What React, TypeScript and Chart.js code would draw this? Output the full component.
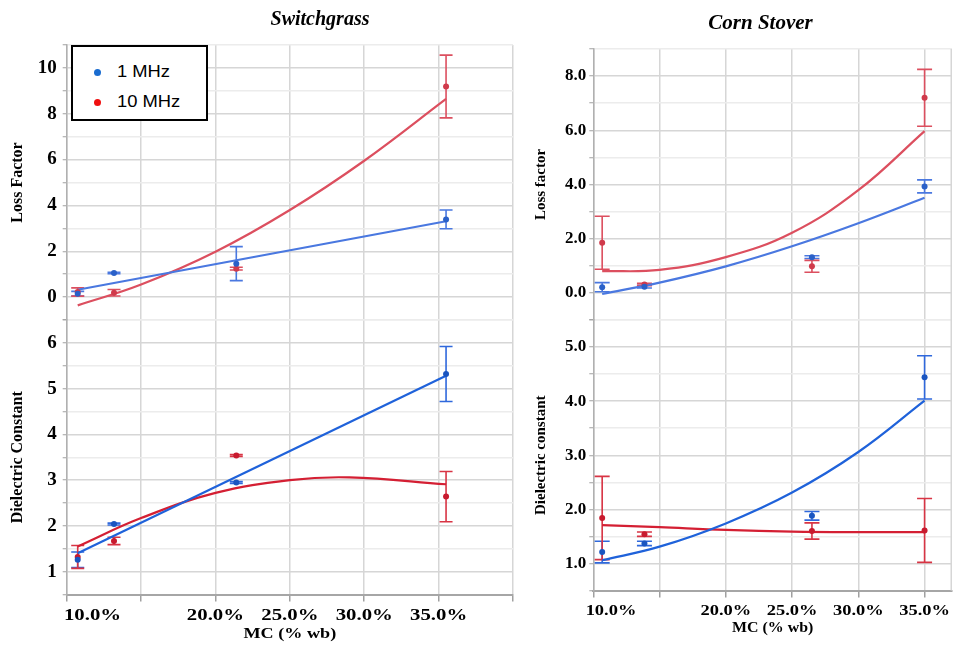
import React, { useEffect, useRef } from 'react';
import { Chart, registerables } from 'chart.js';

Chart.register(...registerables);

const serif = "'Liberation Serif', 'Times New Roman', Times, serif";

const seriesNames = ['1 MHz', '10 MHz'];
const legendColors = ['#1a6cd0', '#f01010'];

// Moisture-content tick labels along the shared x axis
const mcTickValues = [10, 20, 25, 30, 35];
const mcTickLabels = ['10.0%', '20.0%', '25.0%', '30.0%', '35.0%'];
const mcTitle = 'MC (% wb)';

// ---- Switchgrass ----
const sgMC = [10.74, 13.18, 21.4, 35.5];
const sgLoss1 = [0.15, 1.05, 1.46, 3.39];
const sgLoss1Err = [0.1, 0.03, 0.74, 0.41];
const sgLoss10 = [0.22, 0.19, 1.24, 9.19];
const sgLoss10Err = [0.18, 0.14, 0.06, 1.37];
const sgDiel1 = [1.26, 2.04, 2.95, 5.32];
const sgDiel1Err = [0.17, 0.02, 0.02, 0.6];
const sgDiel10 = [1.32, 1.67, 3.54, 2.64];
const sgDiel10Err = [0.25, 0.08, 0.02, 0.55];

// fitted trend lines (Switchgrass)
const sgLoss1FitX = [10.74, 35.5];
const sgLoss1FitY = [0.32, 3.31];
const sgLoss10FitX = [10.74, 15, 20, 25, 30, 35.5];
const sgLoss10FitY = [-0.36, 0.55, 1.98, 3.8, 5.95, 8.65];
const sgDiel1FitX = [10.74, 35.5];
const sgDiel1FitY = [1.4, 5.28];
const sgDiel10FitX = [10.74, 15, 20, 25, 29, 35.5];
const sgDiel10FitY = [1.55, 2.17, 2.72, 3.0, 3.06, 2.91];

// ---- Corn Stover ----
const csMC = [10.67, 13.86, 26.5, 35.0];
const csLoss1 = [0.21, 0.23, 1.32, 3.93];
const csLoss1Err = [0.17, 0.05, 0.05, 0.24];
const csLoss10 = [1.85, 0.31, 0.98, 7.2];
const csLoss10Err = [0.98, 0.04, 0.22, 1.05];
const csDiel1 = [1.21, 1.37, 1.88, 4.44];
const csDiel1Err = [0.2, 0.04, 0.08, 0.4];
const csDiel10 = [1.84, 1.54, 1.6, 1.61];
const csDiel10Err = [0.77, 0.04, 0.15, 0.59];

// fitted trend lines (Corn Stover)
const csLoss1FitX = [10.67, 15, 20, 25, 30, 35];
const csLoss1FitY = [-0.04, 0.38, 0.98, 1.72, 2.57, 3.51];
const csLoss10FitX = [10.67, 15, 20, 25, 30, 35];
const csLoss10FitY = [0.8, 0.85, 1.32, 2.22, 3.79, 5.97];
const csDiel1FitX = [10.67, 15, 20, 25, 30, 35];
const csDiel1FitY = [1.06, 1.31, 1.74, 2.31, 3.06, 4.01];
const csDiel10FitX = [10.67, 15, 20, 25, 30, 35];
const csDiel10FitY = [1.71, 1.67, 1.62, 1.59, 1.58, 1.58];

const pts = (xs: number[], ys: number[]) => xs.map((x, i) => ({ x, y: ys[i] }));

type Colors = { line: string; point: string; err: string };

function seriesDatasets(
  label: string,
  axis: string,
  x: number[],
  y: number[],
  err: number[],
  fitX: number[],
  fitY: number[],
  c: Colors,
  cap: number
) {
  return [
    {
      label: label + ' fit',
      data: pts(fitX, fitY),
      yAxisID: axis,
      showLine: true,
      borderColor: c.line,
      backgroundColor: c.line,
      borderWidth: 2.2,
      pointRadius: 0,
      tension: 0.4,
      fill: false,
      order: 2,
    },
    {
      label,
      data: pts(x, y),
      yAxisID: axis,
      showLine: false,
      pointRadius: 3,
      pointBackgroundColor: c.point,
      pointBorderWidth: 0,
      errors: err,
      errorColor: c.err,
      capHalf: cap,
      order: 1,
    },
  ];
}

// vertical error bars with caps, drawn through the chart's own scales
const errorBarPlugin = {
  id: 'errorBars',
  beforeDatasetsDraw(chart: any) {
    const { ctx } = chart;
    const xs = chart.scales.x;
    chart.data.datasets.forEach((ds: any) => {
      if (!ds.errors) return;
      const ys = chart.scales[ds.yAxisID];
      ctx.save();
      ctx.strokeStyle = ds.errorColor;
      ctx.lineWidth = 1.6;
      ds.data.forEach((p: any, i: number) => {
        const e = ds.errors[i];
        const px = xs.getPixelForValue(p.x);
        const top = ys.getPixelForValue(p.y + e);
        const bot = ys.getPixelForValue(p.y - e);
        const h = ds.capHalf;
        ctx.beginPath();
        ctx.moveTo(px, top);
        ctx.lineTo(px, bot);
        ctx.moveTo(px - h, top);
        ctx.lineTo(px + h, top);
        ctx.moveTo(px - h, bot);
        ctx.lineTo(px + h, bot);
        ctx.stroke();
      });
      ctx.restore();
    });
  },
};

// x tick labels and axis title, set in a slightly widened bold serif
const mcAxisTextPlugin = {
  id: 'mcAxisText',
  afterDraw(chart: any, _args: any, o: any) {
    const { ctx, chartArea } = chart;
    const xs = chart.scales.x;
    ctx.save();
    ctx.fillStyle = '#000';
    ctx.textAlign = 'center';
    ctx.textBaseline = 'alphabetic';
    ctx.font = `bold ${o.tickSize}px ${serif}`;
    mcTickValues.forEach((v, i) => {
      let px = xs.getPixelForValue(v);
      if (v === xs.min) px += o.edgeShift;
      ctx.save();
      ctx.translate(px, chartArea.bottom + o.tickBaseline);
      ctx.scale(o.stretch, 1);
      ctx.fillText(mcTickLabels[i], 0, 0);
      ctx.restore();
    });
    ctx.font = `bold ${o.titleSize}px ${serif}`;
    ctx.save();
    ctx.translate((chartArea.left + chartArea.right) / 2, chartArea.bottom + o.titleBaseline);
    ctx.scale(o.titleStretch, 1);
    ctx.fillText(mcTitle, 0, 0);
    ctx.restore();
    if (o.rightEdge) {
      ctx.strokeStyle = '#d6d6d6';
      ctx.lineWidth = 1.5;
      ctx.beginPath();
      ctx.moveTo(chartArea.right - 0.75, chartArea.top);
      ctx.lineTo(chartArea.right - 0.75, chartArea.bottom);
      ctx.stroke();
    }
    ctx.restore();
  },
};

type AxisOpts = {
  min: number;
  max: number;
  step: number;
  labelEvery: number;
  decimals: number;
  weight: number;
  title: string;
  tickSize: number;
  titleSize: number;
  titlePad: number;
  width: number;
  labelPad: number;
};

function yAxis(o: AxisOpts) {
  const isMajor = (v: number) => Math.abs(v / o.labelEvery - Math.round(v / o.labelEvery)) < 1e-6;
  return {
    type: 'linear',
    position: 'left',
    stack: 'mc',
    stackWeight: o.weight,
    min: o.min,
    max: o.max,
    ticks: {
      stepSize: o.step,
      autoSkip: false,
      includeBounds: false,
      padding: o.labelPad,
      color: '#000',
      font: { family: serif, size: o.tickSize, weight: 'bold' },
      callback: (v: number) => (isMajor(v) ? Number(v).toFixed(o.decimals) : ''),
    },
    grid: {
      color: (c: any) => (isMajor(c.tick.value) ? '#d6d6d6' : '#ececec'),
      lineWidth: 1.5,
      tickLength: 4,
      tickColor: '#a0a0a0',
      tickWidth: 1,
    },
    border: { color: '#b0b0b0', width: 1.5 },
    title: {
      display: true,
      text: o.title,
      color: '#000',
      font: { family: serif, size: o.titleSize, weight: 'bold' },
      padding: { top: o.titlePad, bottom: 0 },
    },
    afterFit: (s: any) => {
      s.width = o.width;
    },
  };
}

const topColors1: Colors = { line: '#4a78e0', point: '#2a60c8', err: '#4a78e0' };
const topColors10: Colors = { line: '#dc4f5f', point: '#d03a4b', err: '#dc4f5f' };
const lowColors1: Colors = { line: '#1f62da', point: '#1a55c0', err: '#2f68dc' };
const lowColors10: Colors = { line: '#d41f33', point: '#c81a2e', err: '#d83444' };

function switchgrassConfig(): any {
  return {
    type: 'scatter',
    data: {
      datasets: [
        ...seriesDatasets(seriesNames[0], 'yLoss', sgMC, sgLoss1, sgLoss1Err, sgLoss1FitX, sgLoss1FitY, topColors1, 6.5),
        ...seriesDatasets(seriesNames[1], 'yLoss', sgMC, sgLoss10, sgLoss10Err, sgLoss10FitX, sgLoss10FitY, topColors10, 6.5),
        ...seriesDatasets(seriesNames[0], 'yDiel', sgMC, sgDiel1, sgDiel1Err, sgDiel1FitX, sgDiel1FitY, lowColors1, 6.5),
        ...seriesDatasets(seriesNames[1], 'yDiel', sgMC, sgDiel10, sgDiel10Err, sgDiel10FitX, sgDiel10FitY, lowColors10, 6.5),
      ],
    },
    options: {
      responsive: false,
      maintainAspectRatio: false,
      animation: false,
      devicePixelRatio: 1,
      layout: { padding: { top: 45, right: 7, bottom: 0, left: 0 } },
      plugins: {
        legend: { display: false },
        tooltip: { enabled: false },
        mcAxisText: {
          tickSize: 16,
          stretch: 1.3,
          edgeShift: 25.8,
          tickBaseline: 25.5,
          titleSize: 15,
          titleStretch: 1.21,
          titleBaseline: 43.8,
          rightEdge: false,
        },
      },
      scales: {
        x: {
          type: 'linear',
          position: 'bottom',
          min: 10,
          max: 40,
          ticks: { stepSize: 5, display: false, autoSkip: false, includeBounds: false },
          grid: { color: '#d6d6d6', lineWidth: 1.5, tickLength: 7, tickColor: '#a0a0a0', tickWidth: 1.5 },
          border: { color: '#a6a6a6', width: 2 },
          afterFit: (s: any) => {
            s.height = 50.5;
          },
        },
        yDiel: yAxis({
          min: 0.5, max: 6.5, step: 0.5, labelEvery: 1, decimals: 0, weight: 274.5,
          title: 'Dielectric Constant', tickSize: 19, titleSize: 16, titlePad: 8.7, width: 66.7, labelPad: 6,
        }),
        yLoss: yAxis({
          min: -1, max: 11, step: 1, labelEvery: 2, decimals: 0, weight: 275,
          title: 'Loss Factor', tickSize: 19, titleSize: 16, titlePad: 8.7, width: 66.7, labelPad: 6,
        }),
      },
    },
    plugins: [errorBarPlugin, mcAxisTextPlugin],
  };
}

function cornStoverConfig(): any {
  return {
    type: 'scatter',
    data: {
      datasets: [
        ...seriesDatasets(seriesNames[0], 'yLoss', csMC, csLoss1, csLoss1Err, csLoss1FitX, csLoss1FitY, topColors1, 7.5),
        ...seriesDatasets(seriesNames[1], 'yLoss', csMC, csLoss10, csLoss10Err, csLoss10FitX, csLoss10FitY, topColors10, 7.5),
        ...seriesDatasets(seriesNames[0], 'yDiel', csMC, csDiel1, csDiel1Err, csDiel1FitX, csDiel1FitY, lowColors1, 7.5),
        ...seriesDatasets(seriesNames[1], 'yDiel', csMC, csDiel10, csDiel10Err, csDiel10FitX, csDiel10FitY, lowColors10, 7.5),
      ],
    },
    options: {
      responsive: false,
      maintainAspectRatio: false,
      animation: false,
      devicePixelRatio: 1,
      layout: { padding: { top: 49, right: 0, bottom: 0, left: 0 } },
      plugins: {
        legend: { display: false },
        tooltip: { enabled: false },
        mcAxisText: {
          tickSize: 15,
          stretch: 1.23,
          edgeShift: 17.7,
          tickBaseline: 24.5,
          titleSize: 15,
          titleStretch: 1.06,
          titleBaseline: 41.2,
          rightEdge: true,
        },
      },
      scales: {
        x: {
          type: 'linear',
          position: 'bottom',
          min: 10,
          max: 37.07,
          ticks: { stepSize: 5, display: false, autoSkip: false, includeBounds: false },
          grid: { color: '#d6d6d6', lineWidth: 1.5, tickLength: 7, tickColor: '#a0a0a0', tickWidth: 1.5 },
          border: { color: '#a6a6a6', width: 2 },
          afterFit: (s: any) => {
            s.height = 54.5;
          },
        },
        yDiel: yAxis({
          min: 0.5, max: 5.5, step: 0.5, labelEvery: 1, decimals: 1, weight: 270.5,
          title: 'Dielectric constant', tickSize: 17, titleSize: 15, titlePad: 12.3, width: 73.3, labelPad: 3,
        }),
        yLoss: yAxis({
          min: -1, max: 9, step: 1, labelEvery: 2, decimals: 1, weight: 271,
          title: 'Loss factor', tickSize: 17, titleSize: 15, titlePad: 12.3, width: 73.3, labelPad: 3,
        }),
      },
    },
    plugins: [errorBarPlugin, mcAxisTextPlugin],
  };
}

export default function App() {
  const leftRef = useRef<HTMLCanvasElement>(null);
  const rightRef = useRef<HTMLCanvasElement>(null);

  useEffect(() => {
    const left = new Chart(leftRef.current as HTMLCanvasElement, switchgrassConfig());
    const right = new Chart(rightRef.current as HTMLCanvasElement, cornStoverConfig());
    return () => {
      left.destroy();
      right.destroy();
    };
  }, []);

  const titleStyle = (center: number, top: number, size: number): React.CSSProperties => ({
    position: 'absolute',
    left: center - 120,
    width: 240,
    top,
    textAlign: 'center',
    fontFamily: serif,
    fontStyle: 'italic',
    fontWeight: 'bold',
    fontSize: size,
    lineHeight: `${size}px`,
    color: '#000',
    whiteSpace: 'nowrap',
  });

  return (
    <div style={{ position: 'absolute', left: 0, top: 0, width: 956, height: 645, background: '#fff', overflow: 'hidden' }}>
      <canvas ref={leftRef} width={520} height={645} style={{ position: 'absolute', left: 0, top: 0, display: 'block' }} />
      <canvas ref={rightRef} width={436} height={645} style={{ position: 'absolute', left: 520, top: 0, display: 'block' }} />
      <div style={titleStyle(320, 8.3, 20)}>Switchgrass</div>
      <div style={titleStyle(760.5, 12.4, 21)}>Corn Stover</div>
      <div
        style={{
          position: 'absolute',
          left: 71,
          top: 45,
          width: 137,
          height: 76,
          boxSizing: 'border-box',
          border: '2px solid #000',
          background: '#fff',
        }}
      >
        {seriesNames.map((name, i) => (
          <div key={name}>
            <div
              style={{
                position: 'absolute',
                left: 24.3 - 3.5,
                top: 25.3 + i * 30 - 3.5,
                width: 7,
                height: 7,
                borderRadius: '50%',
                background: legendColors[i],
              }}
            />
            <div
              style={{
                position: 'absolute',
                left: 44.3,
                top: 14.8 + i * 30.6,
                fontFamily: "'Liberation Sans', Arial, sans-serif",
                fontSize: 17,
                lineHeight: '20px',
                color: '#000',
                whiteSpace: 'nowrap',
                transform: 'scaleX(1.08)',
                transformOrigin: 'left center',
              }}
            >
              {name}
            </div>
          </div>
        ))}
      </div>
    </div>
  );
}
